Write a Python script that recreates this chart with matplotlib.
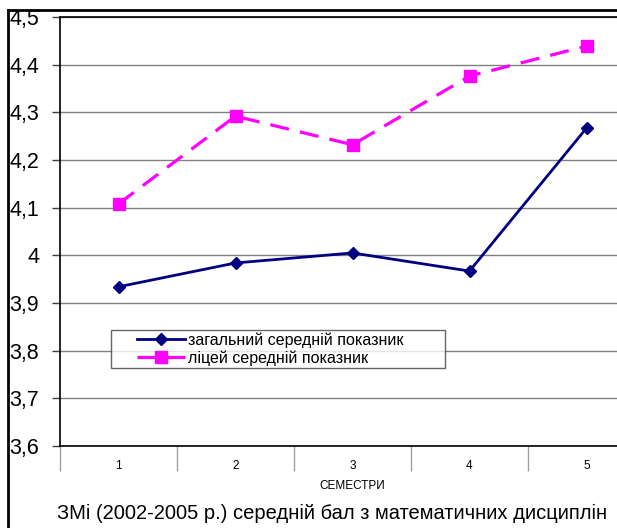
import matplotlib
matplotlib.use("Agg")
import matplotlib.pyplot as plt
from matplotlib.lines import Line2D
from matplotlib.ticker import FixedLocator
from matplotlib.legend_handler import HandlerLine2D

plt.rcParams['font.family'] = ['Liberation Sans', 'DejaVu Sans']

semesters = ['1', '2', '3', '4', '5']
general = [3.934, 3.984, 4.005, 3.967, 4.267]
lyceum = [4.108, 4.292, 4.232, 4.376, 4.439]
y_ticks = [3.6, 3.7, 3.8, 3.9, 4.0, 4.1, 4.2, 4.3, 4.4, 4.5]
y_labels = ['3,6', '3,7', '3,8', '3,9', '4', '4,1', '4,2', '4,3', '4,4', '4,5']
label_general = 'загальний середній показник'
label_lyceum = 'ліцей середній показник'
x_title = 'СЕМЕСТРИ'
caption = 'ЗМі (2002-2005 р.) середній бал з математичних дисциплін'


class ShiftedHandler(HandlerLine2D):
    shift = 17.0

    def create_artists(self, legend, orig_handle, xdescent, ydescent, width,
                       height, fontsize, trans):
        return super().create_artists(legend, orig_handle, xdescent - self.shift,
                                      ydescent, width - self.shift, height,
                                      fontsize, trans)


W, H = 617, 528
fig = plt.figure(figsize=(W / 100, H / 100), dpi=100)
ax = fig.add_axes([60 / W, 1 - 446 / H, 585 / W, 429 / H])

x = list(range(len(semesters)))
l1, = ax.plot(x, general, color='#000080', lw=2, marker='D', ms=6.5, label=label_general)
l2, = ax.plot(x, lyceum, color='#FF00FF', lw=2.3, ls=(0, (6, 3.5)), marker='s', ms=8.5,
              label=label_lyceum)

ax.set_xlim(-0.5, len(semesters) - 0.5)
ax.set_ylim(3.6, 4.5)
ax.set_yticks(y_ticks)
ax.set_yticklabels(y_labels, fontsize=15.5)
ax.yaxis.grid(True, color='#808080', lw=1)
ax.set_axisbelow(True)
ax.tick_params(axis='y', length=6, width=1, pad=9, color='#404040')

ax.set_xticks(x)
ax.set_xticklabels(semesters, fontsize=8.5)
ax.tick_params(axis='x', which='major', length=0, pad=10)
ax.xaxis.set_minor_locator(FixedLocator([i - 0.5 for i in range(len(semesters) + 1)]))
ax.tick_params(axis='x', which='minor', length=18, width=1, color='#a0a0a0')
ax.set_xlabel(x_title, fontsize=8.5, labelpad=3)

for s in ['top', 'left', 'bottom']:
    ax.spines[s].set_color('black')
    ax.spines[s].set_linewidth(1.2)
ax.spines['right'].set_visible(False)

leg = ax.legend(handles=[l1, l2], loc='upper left',
                bbox_to_anchor=(51 / 585, (446 - 330) / 429, 334 / 585, 0.0),
                mode='expand', handler_map={Line2D: ShiftedHandler()},
                fontsize=11.5, frameon=True, fancybox=False, edgecolor='#404040',
                handlelength=4.5, borderpad=0.15, labelspacing=0.15,
                handletextpad=0.2, borderaxespad=0)
leg.get_frame().set_linewidth(1)

fig.text(57 / W, 1 - 513 / H, caption, fontsize=14.5, va='center', ha='left')

fig.add_artist(Line2D([8 / W, 8 / W], [0, 1 - 10 / H], color='black', lw=2,
                      transform=fig.transFigure))
fig.add_artist(Line2D([8 / W, 1], [1 - 10 / H, 1 - 10 / H], color='black', lw=2,
                      transform=fig.transFigure))

fig.savefig('out.png', dpi=100)
